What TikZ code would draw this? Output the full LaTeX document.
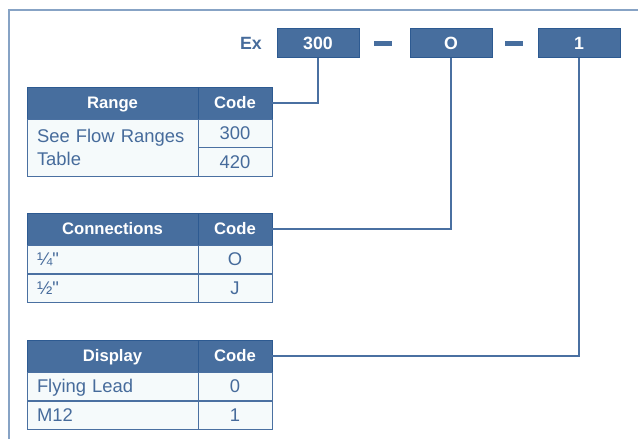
\documentclass[tikz,border=0pt]{standalone}
\usepackage{fontspec}
\setmainfont{Liberation Sans}
\definecolor{hdrblue}{HTML}{476E9E}
\definecolor{edgeblue}{HTML}{2D5A91}
\definecolor{cellbg}{HTML}{F5FAFB}
\definecolor{txtblue}{HTML}{466B9B}
\definecolor{frameblue}{HTML}{87A3C5}
\definecolor{linkblue}{HTML}{4A70A1}
\begin{document}
\begin{tikzpicture}[x=0.75pt,y=-0.75pt,
    codebox/.style={draw=edgeblue,fill=hdrblue,text=white,font=\fontsize{13.3}{15}\selectfont\bfseries,
      minimum width=61.5pt,minimum height=21.75pt,inner sep=0pt,outer sep=0pt,line width=0.75pt,
      text height=9.5pt,text depth=0pt},
    hdrcell/.style={draw=edgeblue,fill=hdrblue,text=white,font=\fontsize{12.5}{14}\selectfont\bfseries,
      minimum height=24pt,inner sep=0pt,outer sep=0pt,anchor=north west,line width=0.75pt,
      text height=8.9pt,text depth=0pt},
    bodycell/.style={draw=linkblue,fill=cellbg,text=txtblue,font=\fontsize{13.8}{17.25}\selectfont,
      minimum height=21.375pt,inner sep=0pt,outer sep=0pt,anchor=north west,line width=0.75pt},
    capmid/.style={text height=9.9pt,text depth=0pt},
    wide/.style={minimum width=128.25pt},
    narrow/.style={minimum width=55.5pt},
    lefttext/.style={inner xsep=7.5pt,text width=113.25pt,align=left},
    link/.style={draw=linkblue,line width=0.9pt}]
  \useasboundingbox (0,0) rectangle (638,439);
  \draw[frameblue,line width=1.5pt] (9,439) -- (9,10) -- (638,10); %cornice
  % codice d'ordine
  \node[text=txtblue,font=\fontsize{13.3}{15}\selectfont\bfseries,text height=9.5pt,text depth=0pt] (ex) at (251,43) {Ex};
  \node[codebox] (b300) at (318,43) {300};
  \node[fill=hdrblue,minimum width=13.5pt,minimum height=3.75pt,inner sep=0pt] (d1) at (383,43) {};
  \node[codebox] (bO) at (451,43) {O};
  \node[fill=hdrblue,minimum width=13.5pt,minimum height=3.75pt,inner sep=0pt] (d2) at (514,43) {};
  \node[codebox] (b1) at (579,43) {1};
  % tabella 1
  \node[hdrcell,wide] (rng) at (27,87) {Range};
  \node[hdrcell,narrow] (rngcode) at (198,87) {Code};
  \node[bodycell,wide,minimum height=42.75pt,lefttext] (rngtxt) at (27,119) {See Flow Ranges\\Table};
  \node[bodycell,narrow,capmid] (r300) at (198,119) {300};
  \node[bodycell,narrow,capmid] (r420) at (198,147.5) {420};
  % tabella 2
  \node[hdrcell,wide] (con) at (27,213) {Connections};
  \node[hdrcell,narrow] (concode) at (198,213) {Code};
  \node[bodycell,wide,lefttext,capmid] (qtr) at (27,245) {¼\textquotedbl};
  \node[bodycell,narrow,capmid] (cO) at (198,245) {O};
  \node[bodycell,wide,lefttext,capmid] (half) at (27,274) {½\textquotedbl};
  \node[bodycell,narrow,capmid] (cJ) at (198,274) {J};
  % tabella 3
  \node[hdrcell,wide] (dsp) at (27,340) {Display};
  \node[hdrcell,narrow] (dspcode) at (198,340) {Code};
  \node[bodycell,wide,lefttext,capmid] (fly) at (27,372) {Flying Lead};
  \node[bodycell,narrow,capmid] (d0) at (198,372) {0};
  \node[bodycell,wide,lefttext,capmid] (m12) at (27,401) {M12};
  \node[bodycell,narrow,capmid] (dd1) at (198,401) {1};
  % collegamenti
  \draw[link] (rngcode.east) -| (b300.south);
  \draw[link] (concode.east) -| (bO.south);
  \draw[link] (dspcode.east) -| (b1.south);
\end{tikzpicture}
\end{document}
